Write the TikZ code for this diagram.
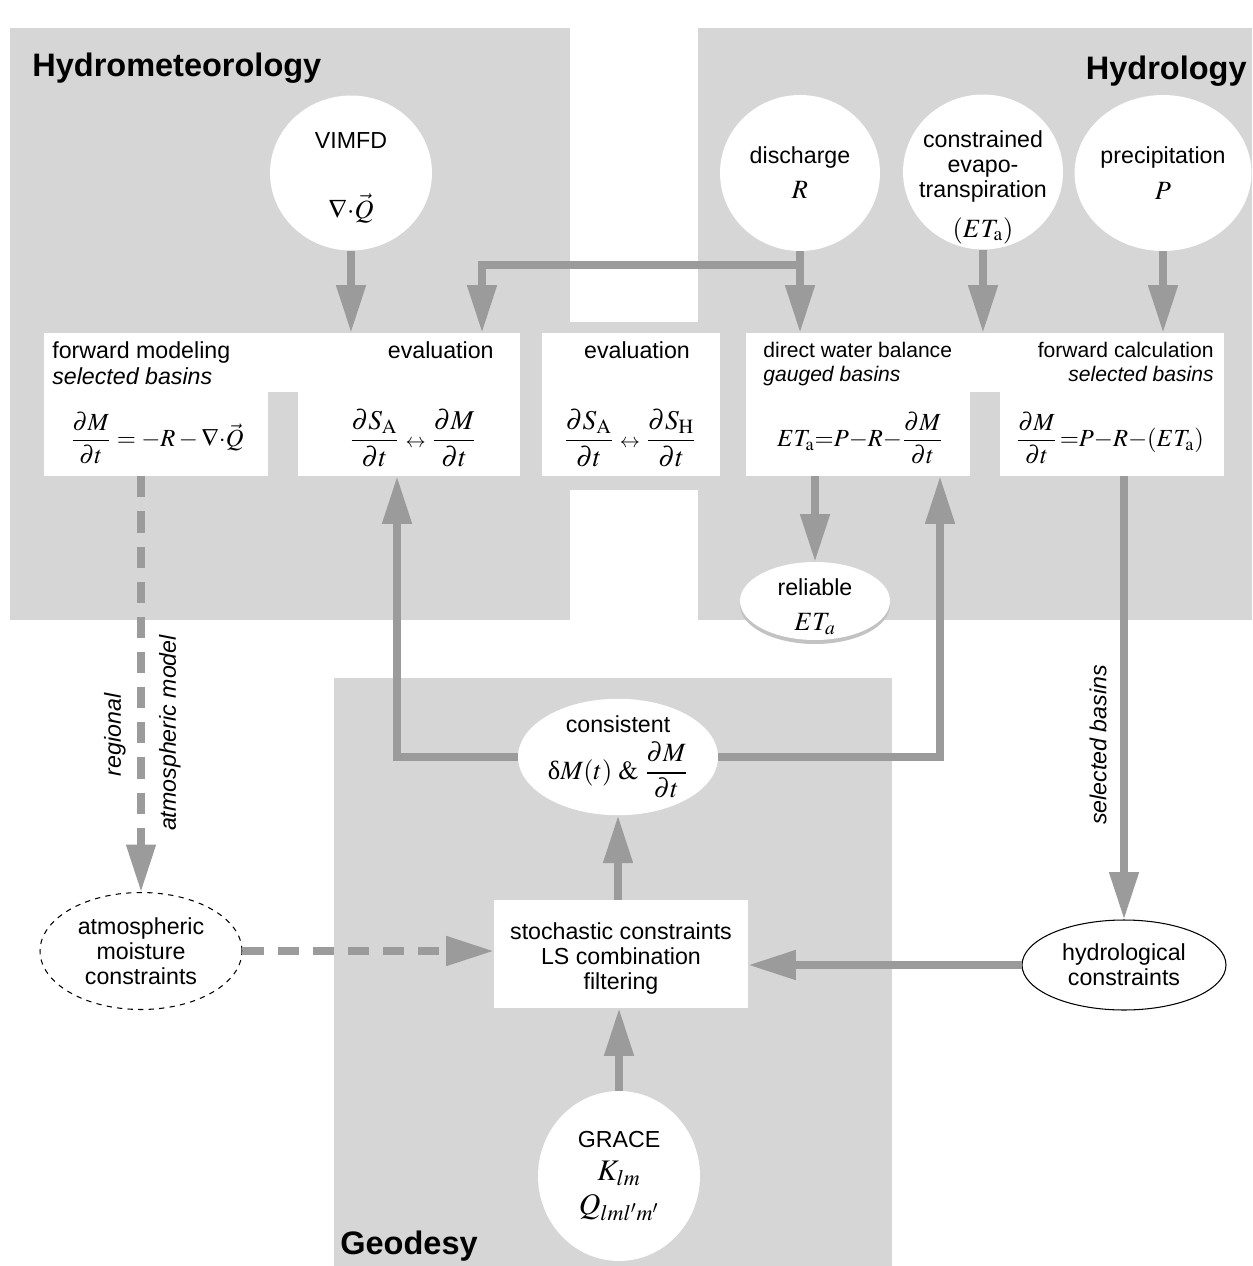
\documentclass[tikz,border=0pt]{standalone}
\usepackage{mathptmx}
\usepackage[no-math]{fontspec}
\setmainfont{Liberation Sans}
\newfontfamily\serifgreek{Liberation Serif}
\usepackage{tikz}
\usetikzlibrary{arrows.meta,positioning,shapes.geometric,calc,shadows}
\definecolor{panelgrey}{HTML}{D6D6D6}
\definecolor{arrowgrey}{HTML}{9B9B9B}
\definecolor{shadowgrey}{HTML}{C2C2C2}
\newcommand{\eqsize}{\fontsize{15}{17}\selectfont}
\newcommand{\gracesize}{\fontsize{17}{19}\selectfont}

\begin{document}
\begin{tikzpicture}[
x=0.02cm,y=-0.02cm,
every node/.style={font=\fontsize{13.2}{14.2}\selectfont},
title/.style={font=\fontsize{18.5}{20}\selectfont\bfseries,inner sep=0},
box/.style={fill=white,inner sep=0,minimum height=28.6mm},
bubble/.style={ellipse,fill=white,inner sep=0,align=center},
head/.style={inner sep=0},
sub/.style={inner sep=0,font=\fontsize{13.2}{14.2}\selectfont\itshape},
rhead/.style={inner sep=0,font=\fontsize{12}{13}\selectfont},
rsub/.style={inner sep=0,font=\fontsize{12}{13}\selectfont\itshape},
eq/.style={inner sep=0,font=\fontsize{14}{16}\selectfont},
evaleq/.style={inner sep=0,font=\fontsize{15.5}{17}\selectfont},
side/.style={inner sep=0,rotate=90,font=\fontsize{13.2}{14.2}\selectfont\itshape},
arr/.style={-{Triangle[length=27pt,width=16pt]},line width=4.2pt,draw=arrowgrey},
darr/.style={arr,dash pattern=on 12pt off 8pt}
]
\useasboundingbox (0,0) rectangle (1252,1266);

% panels
\fill[panelgrey] (10,28) rectangle (570,620);
\fill[panelgrey] (698,28) rectangle (1252,620);
\fill[panelgrey] (570,322) rectangle (698,490);
\fill[panelgrey] (334,678) rectangle (892,1266);

\node[title,anchor=base west] (hmtitle) at (32,77) {Hydrometeorology};
\node[title,anchor=base east] (hytitle) at (1247,80) {Hydrology};
\node[title,anchor=base west] (gdtitle) at (340,1254) {Geodesy};

% data sources
\node[bubble,minimum width=32.4mm,minimum height=31mm] (vimfd) at (351,173)
  {\rule{0pt}{15pt}VIMFD\\[9mm]{\eqsize$\nabla{\cdot}\vec{Q}$}};
\node[bubble,minimum width=32mm,minimum height=31.2mm] (dis) at (800,173)
  {discharge\\[2mm]{\eqsize$R$}};
\node[bubble,minimum width=32mm,minimum height=31mm] (cet) at (983,172) {};
\node[inner sep=0,align=center] (cettext) at (983,187)
  {constrained\\evapo-\\transpiration\\[3mm]{\eqsize$(ET_{\mathrm{a}})$}};
\node[bubble,minimum width=31.4mm,minimum height=31.2mm] (prec) at (1163,173)
  {precipitation\\[2.2mm]{\eqsize$P$}};

% balance boxes
\node[box,minimum width=44.8mm] (fwd) at (156,404.5) {};
\node[box,minimum width=44.4mm] (evalA) at (409,404.5) {};
\fill[white] (fwd.north east) rectangle ($(evalA.north west)+(0,59)$);
\node[box,minimum width=35.6mm] (evalM) at (631,404.5) {};
\node[box,minimum width=44.8mm] (water) at (858,404.5) {};
\node[box,minimum width=44.8mm] (calc) at (1112,404.5) {};
\fill[white] (water.north east) rectangle ($(calc.north west)+(0,59)$);

\node[head,anchor=base west] (fwdhead) at (52,359) {forward modeling};
\node[sub,anchor=base west] (fwdsub) at (52,385) {selected basins};
\node[head,anchor=base east] (evalAhead) at (494,359) {evaluation};
\node[head,anchor=base] (evalMhead) at (637,359) {evaluation};
\node[rhead,anchor=base west] (waterhead) at (763,358) {direct water balance};
\node[rsub,anchor=base west] (watersub) at (763,382) {gauged basins};
\node[rhead,anchor=base east] (calchead) at (1214,358) {forward calculation};
\node[rsub,anchor=base east] (calcsub) at (1214,382) {selected basins};

\node[eq] (fwdeq) at (157,438)
  {$\displaystyle\frac{\partial M}{\partial t}=-R-\nabla{\cdot}\vec{Q}$};
\node[evaleq] (evalAeq) at (413,438)
  {$\displaystyle\frac{\partial S_{\mathrm{A}}}{\partial t}\;{\scriptstyle\leftrightarrow}\;\frac{\partial M}{\partial t}$};
\node[evaleq] (evalMeq) at (630,438)
  {$\displaystyle\frac{\partial S_{\mathrm{A}}}{\partial t}\;{\scriptstyle\leftrightarrow}\;\frac{\partial S_{\mathrm{H}}}{\partial t}$};
\node[eq] (watereq) at (860,438)
  {$\displaystyle ET_{\mathrm{a}}{=}P{-}R{-}\frac{\partial M}{\partial t}$};
\node[eq] (calceq) at (1110,438)
  {$\displaystyle\frac{\partial M}{\partial t}\,{=}P{-}R{-}(ET_{\mathrm{a}})$};

% results and constraints
\node[bubble,minimum width=30mm,minimum height=15.6mm,
  drop shadow={shadow xshift=0pt,shadow yshift=-0.8mm,fill=shadowgrey,opacity=1}]
  (reliable) at (815,601) {};
\node[inner sep=0,align=center] (reltext) at (815,606.5)
  {reliable\\[2mm]{\eqsize$ET_a$}};
\node[bubble,minimum width=40mm,minimum height=21mm] (consist) at (618,757)
  {consistent\\[1.5mm]{\eqsize$\mbox{\serifgreek δ}M(t)\;\&\;\displaystyle\frac{\partial M}{\partial t}$}};
\node[box,minimum width=50.8mm,minimum height=21.6mm,align=center] (stoch) at (621,954)
  {\rule{0pt}{15pt}stochastic constraints\\LS combination\\filtering};
\node[bubble,draw=black,dashed,line width=0.6pt,minimum width=40.4mm,minimum height=23.4mm]
  (atmos) at (141,951) {atmospheric\\moisture\\constraints};
\node[bubble,draw=black,line width=0.6pt,minimum width=40.8mm,minimum height=18mm]
  (hydro) at (1124,965) {hydrological\\constraints};
\node[bubble,minimum width=32.4mm,minimum height=34mm] (grace) at (619,1176)
  {GRACE\\[1.6mm]{\gracesize$K_{lm}$}\\[1.3mm]{\gracesize$Q_{lml'm'}$}};

\node[side] (regional) at (115,735) {regional};
\node[side] (atmmodel) at (170,733) {atmospheric model};
\node[side] (selbasins) at (1098,745) {selected basins};

% connectors
\coordinate (split) at (800,265);
\draw[arr] (vimfd.south) -- (vimfd.south |- evalA.north);
\draw[arr] (dis.south) -- (dis.south |- water.north);
\draw[arr] (split) -| ($(evalA.north)+(73,0)$);
\draw[arr] (cet.south) -- (cet.south |- water.north);
\draw[arr] (prec.south) -- (prec.south |- calc.north);
\draw[arr] (water.south -| reliable.north) -- (reliable.north);
\draw[arr] (consist.east) -| ($(water.south)+(82,0)$);
\draw[arr] (consist.west) -| ($(evalA.south)+(-12,0)$);
\draw[darr] (atmos.north |- fwd.south) -- (atmos.north);
\draw[darr] (atmos.east) -- (atmos.east -| stoch.west);
\draw[arr] (hydro.north |- calc.south) -- (hydro.north);
\draw[arr] (hydro.west) -- (hydro.west -| stoch.east);
\draw[arr] (stoch.north -| consist.south) -- (consist.south);
\draw[arr] (grace.north) -- (grace.north |- stoch.south);
\end{tikzpicture}
\end{document}
